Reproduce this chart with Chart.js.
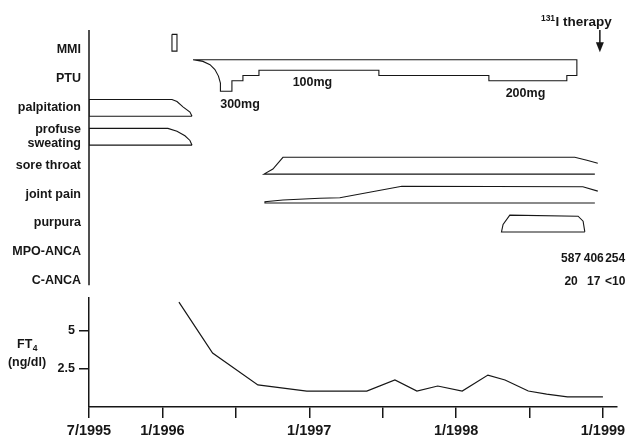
<!DOCTYPE html>
<html><head><meta charset="utf-8">
<script src="https://cdn.jsdelivr.net/npm/chart.js@4.4.0/dist/chart.umd.min.js"></script>
<style>html,body{margin:0;padding:0;background:#fff;}canvas{display:block;}</style>
</head><body>
<canvas id="c" width="632" height="438"></canvas>
<script>
// ---------- categories / ticks ----------
const rowLabels = ['MMI','PTU','palpitation',['profuse','sweating'],'sore throat','joint pain','purpura','MPO-ANCA','C-ANCA'];
const xTickMonths = [0,6,12,18,24,30,36,42];           // months since 7/1995
const xTickLabels = ['7/1995','1/1996','','1/1997','','1/1998','','1/1999'];
const ft4Ticks = [2.5, 5];

// ---------- drugs ----------
const mmiPeriod = [6.78, 7.19];
const ptuRampMonths = [8.5, 9.31, 9.89, 10.29, 10.58, 10.74, 10.78];
const ptuRampDose   = [0, 15, 46, 93, 155, 222, 300];
const ptuStepMonths = [10.78, 11.68, 12.58, 13.89, 23.69, 32.68, 39.05];
const ptuStepDose   = [300, 200, 150, 100, 150, 200, 150];
const ptuStopMonth  = 39.87;
const ptuDoseLabels      = ['300mg','100mg','200mg'];
const ptuDoseLabelMonths = [12.34, 18.26, 35.67];
const ptuDoseLabelDose   = [300, 100, 200];

// ---------- symptoms (level 0..1) ----------
const palpMonths = [0, 6.78, 7.19, 7.68, 8.25, 8.42];
const palpLevel  = [1, 1, 0.875, 0.56, 0.25, 0];
const palpEnd = 8.42;
const sweatMonths = [0, 6.45, 7.19, 7.84, 8.25, 8.42];
const sweatLevel  = [1, 1, 0.83, 0.56, 0.28, 0];
const sweatEnd = 8.42;
const throatMonths = [14.3, 15.03, 15.85, 39.7, 40.69, 41.58];
const throatLevel  = [0, 0.3, 1, 1, 0.82, 0.65];
const throatEnd = 41.34;
const jointMonths = [14.38, 15.85, 18.87, 20.5, 25.57, 40.36, 41.58];
const jointLevel  = [0.08, 0.18, 0.28, 0.31, 1, 0.97, 0.71];
const jointEnd = 41.34;
const purpuraMonths = [33.71, 33.84, 34.39, 39.97, 40.38, 40.52];
const purpuraLevel  = [0, 0.45, 1, 0.94, 0.64, 0];
const purpuraEnd = 40.52;

// ---------- ANCA ----------
const ancaMonths = [39.4, 41.25, 43.0];
const mpoAnca = ['587','406','254'];
const cAnca   = ['20','17','<10'];

// ---------- 131I therapy ----------
const therapyMonth = 41.75;

// ---------- FT4 ----------
const ft4Months = [7.35, 10.1, 13.8, 17.8, 22.7, 25.0, 26.8, 28.5, 30.5, 32.6, 34.0, 35.9, 37.4, 39.1, 42.0];
const ft4Values = [6.9, 3.55, 1.45, 1.05, 1.05, 1.78, 1.05, 1.38, 1.05, 2.1, 1.78, 1.05, 0.85, 0.66, 0.66];

// ---------- style / layout constants ----------
const INK = '#161616';
const FONT = "'Liberation Sans', Arial, Helvetica, sans-serif";
const BASE_OFF = 0.31;   // baseline of a symptom band below its row centre (rows)
const BAND_H = 0.58;     // full symptom band height (rows)
const DRUG_OFF = -0.64;  // drug top line above its row centre (rows)
const DOSE_SCALE = 0.00363; // rows per mg

Chart.defaults.font.family = FONT;
Chart.defaults.font.weight = 'bold';
Chart.defaults.color = INK;

function row(name){ return rowLabels.findIndex(l => (Array.isArray(l) ? l[0] : l) === name); }

function band(r, months, levels, endMonth){
  const base = r + BASE_OFF;
  const top = months.map((m,i)=>({x:m, y: base - levels[i]*BAND_H}));
  const pts = top.slice().reverse();
  pts.push({x: months[0], y: base});
  pts.push({x: endMonth, y: base});
  return pts;
}
function ptuPath(){
  const top = row('PTU') + DRUG_OFF;
  const pts = [{x: ptuRampMonths[0], y: top}, {x: ptuStopMonth, y: top}];
  for (let i = ptuStepMonths.length - 1; i >= 0; i--){
    const end = i === ptuStepMonths.length - 1 ? ptuStopMonth : ptuStepMonths[i+1];
    const y = top + ptuStepDose[i]*DOSE_SCALE;
    pts.push({x: end, y}); pts.push({x: ptuStepMonths[i], y});
  }
  for (let i = ptuRampMonths.length - 2; i >= 0; i--){
    pts.push({x: ptuRampMonths[i], y: top + ptuRampDose[i]*DOSE_SCALE});
  }
  return pts;
}
function mmiPath(){
  const top = row('MMI') + DRUG_OFF + 0.12;
  const [s,e] = mmiPeriod;
  return [{x:s,y:top},{x:e,y:top},{x:e,y:top+BAND_H},{x:s,y:top+BAND_H},{x:s,y:top}];
}
function ds(data, axis, w){
  return {data, yAxisID: axis, borderColor: INK, borderWidth: w || 1.1, pointRadius: 0, fill: false, tension: 0};
}

const datasets = [
  ds(mmiPath(), 'yR'),
  ds(ptuPath(), 'yR'),
  ds(band(row('palpitation'), palpMonths, palpLevel, palpEnd), 'yR'),
  ds(band(row('profuse'), sweatMonths, sweatLevel, sweatEnd), 'yR'),
  ds(band(row('sore throat'), throatMonths, throatLevel, throatEnd), 'yR'),
  ds(band(row('joint pain'), jointMonths, jointLevel, jointEnd), 'yR'),
  ds(band(row('purpura'), purpuraMonths, purpuraLevel, purpuraEnd), 'yR'),
  ds(ft4Months.map((m,i)=>({x:m, y:ft4Values[i]})), 'yF', 1.2)
];

const annot = {
  id: 'annot',
  afterDatasetsDraw(chart){
    const {ctx, chartArea} = chart;
    const x = chart.scales.x, yR = chart.scales.yR, yF = chart.scales.yF;
    ctx.save();
    ctx.fillStyle = INK; ctx.strokeStyle = INK;
    // upper axis line
    ctx.lineWidth = 1.5;
    ctx.beginPath();
    ctx.moveTo(chartArea.left, yR.top);
    ctx.lineTo(chartArea.left, yR.getPixelForValue(rowLabels.length - 1 + 0.15));
    ctx.stroke();
    // dose labels
    ctx.textAlign = 'center'; ctx.textBaseline = 'middle';
    ctx.font = 'bold 12.5px ' + FONT;
    const ptuTop = row('PTU') + DRUG_OFF;
    ptuDoseLabels.forEach((t,i)=>{
      ctx.fillText(t, x.getPixelForValue(ptuDoseLabelMonths[i]), yR.getPixelForValue(ptuTop + ptuDoseLabelDose[i]*DOSE_SCALE + 0.44));
    });
    // ANCA values
    ctx.font = 'bold 12px ' + FONT;
    ancaMonths.forEach((m,i)=>{
      const px = x.getPixelForValue(m);
      ctx.fillText(mpoAnca[i], px, yR.getPixelForValue(row('MPO-ANCA') + 0.24));
      ctx.fillText(cAnca[i], px, yR.getPixelForValue(row('C-ANCA') + 0.02));
    });
    // 131I therapy arrow
    const ax = x.getPixelForValue(therapyMonth);
    const tip = yR.getPixelForValue(row('MMI') + 0.1);
    ctx.lineWidth = 1.5;
    ctx.beginPath(); ctx.moveTo(ax, chartArea.top); ctx.lineTo(ax, tip - 6); ctx.stroke();
    ctx.beginPath(); ctx.moveTo(ax - 4, tip - 10); ctx.lineTo(ax + 4, tip - 10); ctx.lineTo(ax, tip); ctx.closePath(); ctx.fill();
    ctx.textAlign = 'right';
    ctx.font = 'bold 13.5px ' + FONT;
    const right = ax + 12, ty = chartArea.top - 8;
    ctx.fillText('I therapy', right, ty);
    const w = ctx.measureText('I therapy').width;
    ctx.font = 'bold 8.5px ' + FONT;
    ctx.fillText('131', right - w - 0.5, ty - 3);
    // FT4 title
    const cx = yF.left + 27;
    ctx.font = 'bold 12.5px ' + FONT;
    const wFT = ctx.measureText('FT').width;
    ctx.font = 'bold 8.5px ' + FONT;
    const w4 = ctx.measureText('4').width;
    const start = cx - (wFT + w4)/2;
    ctx.textAlign = 'left';
    ctx.font = 'bold 12.5px ' + FONT;
    const fy = yF.getPixelForValue(4.1);
    ctx.fillText('FT', start, fy);
    ctx.font = 'bold 8.5px ' + FONT;
    ctx.fillText('4', start + wFT + 0.5, fy + 4);
    ctx.textAlign = 'center';
    ctx.font = 'bold 12.5px ' + FONT;
    ctx.fillText('(ng/dl)', cx, yF.getPixelForValue(2.95));
    ctx.restore();
  }
};

new Chart(document.getElementById('c'), {
  type: 'line',
  data: { datasets },
  options: {
    responsive: false,
    animation: false,
    layout: { padding: { top: 30, right: 15, bottom: 0, left: 0 } },
    plugins: { legend: { display: false }, tooltip: { enabled: false } },
    scales: {
      x: {
        type: 'linear', position: 'bottom', min: 0, max: 43.15,
        afterBuildTicks: s => { s.ticks = xTickMonths.map(v => ({ value: v })); },
        afterFit: s => { s.height = 31; },
        ticks: { autoSkip: false, maxRotation: 0, padding: 4, font: { size: 14.5, weight: 'bold' },
                 callback: v => xTickLabels[xTickMonths.indexOf(v)] },
        grid: { drawOnChartArea: false, drawTicks: true, tickLength: 11, color: INK, lineWidth: 1.5 },
        border: { display: true, color: INK, width: 1.5 }
      },
      yR: {
        type: 'linear', position: 'left', stack: 'left', stackWeight: 268, weight: 1,
        reverse: true, min: -0.6706, max: 8.593,
        afterBuildTicks: s => { s.ticks = rowLabels.map((_, i) => ({ value: i })); },
        afterFit: s => { s.width = 89; },
        ticks: { autoSkip: false, padding: 8, font: { size: 12.5, weight: 'bold', lineHeight: 1.12 },
                 callback: v => rowLabels[Math.round(v)] },
        grid: { display: false, drawTicks: false },
        border: { display: false }
      },
      yF: {
        type: 'linear', position: 'left', stack: 'left', stackWeight: 109, weight: 0,
        min: 0, max: 7.17,
        afterBuildTicks: s => { s.ticks = ft4Ticks.map(v => ({ value: v })); },
        afterFit: s => { s.width = 89; },
        ticks: { autoSkip: false, padding: 4, font: { size: 12.5, weight: 'bold' }, callback: v => String(v) },
        grid: { drawOnChartArea: false, tickLength: 10, color: INK, lineWidth: 1.5 },
        border: { display: true, color: INK, width: 1.5 }
      }
    }
  },
  plugins: [annot]
});
</script>
</body></html>
